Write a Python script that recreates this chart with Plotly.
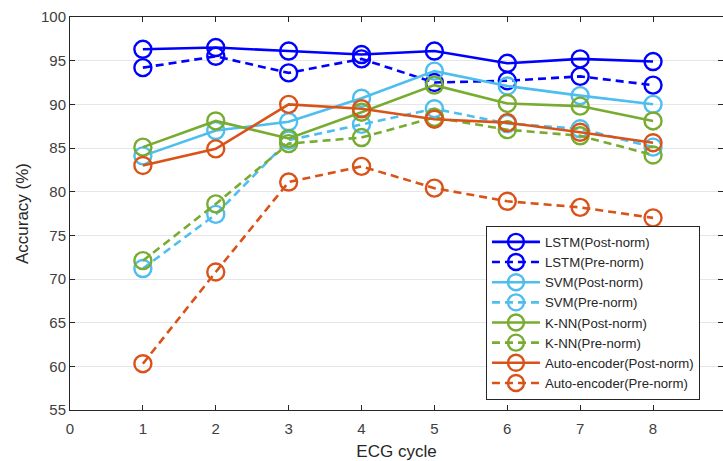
import plotly.graph_objects as go

cycles = [1, 2, 3, 4, 5, 6, 7, 8]
lstm_post = [96.3, 96.5, 96.1, 95.7, 96.1, 94.7, 95.2, 94.9]
lstm_pre = [94.2, 95.5, 93.6, 95.2, 92.5, 92.7, 93.2, 92.2]
svm_post = [84.1, 87.0, 88.0, 90.7, 93.8, 92.1, 91.0, 90.0]
svm_pre = [71.2, 77.4, 85.9, 87.7, 89.5, 87.8, 87.2, 85.1]
knn_post = [85.1, 88.1, 86.1, 89.1, 92.2, 90.1, 89.8, 88.1]
knn_pre = [72.1, 78.6, 85.5, 86.2, 88.5, 87.1, 86.4, 84.2]
ae_post = [83.0, 84.9, 90.0, 89.5, 88.3, 87.9, 86.8, 85.6]
ae_pre = [60.3, 70.8, 81.1, 82.9, 80.4, 78.9, 78.2, 77.0]

series = [
    ("LSTM(Post-norm)", lstm_post, "#0000FF", "solid"),
    ("LSTM(Pre-norm)", lstm_pre, "#0000FF", "dash"),
    ("SVM(Post-norm)", svm_post, "#4DBEEE", "solid"),
    ("SVM(Pre-norm)", svm_pre, "#4DBEEE", "dash"),
    ("K-NN(Post-norm)", knn_post, "#77AC30", "solid"),
    ("K-NN(Pre-norm)", knn_pre, "#77AC30", "dash"),
    ("Auto-encoder(Post-norm)", ae_post, "#D95319", "solid"),
    ("Auto-encoder(Pre-norm)", ae_pre, "#D95319", "dash"),
]

x_ticks = [0, 1, 2, 3, 4, 5, 6, 7, 8, 9]
y_ticks = [55, 60, 65, 70, 75, 80, 85, 90, 95, 100]

fig = go.Figure()
for name, vals, color, dash in series:
    fig.add_trace(go.Scatter(
        x=cycles, y=vals, name=name, mode="lines+markers",
        line=dict(color=color, width=2.6, dash="8px,5px" if dash == "dash" else "solid"),
        marker=dict(symbol="circle-open", size=17, color=color, line=dict(width=2.4, color=color)),
    ))

font_family = "Liberation Sans, Arial, sans-serif"
fig.update_layout(
    width=723, height=461,
    margin=dict(l=70, r=0, t=17, b=51),
    plot_bgcolor="white", paper_bgcolor="white",
    font=dict(family=font_family, size=15, color="#262626"),
    showlegend=True,
    legend=dict(
        x=0.637, y=0.026, xanchor="left", yanchor="bottom",
        bgcolor="white", bordercolor="#262626", borderwidth=1,
        font=dict(family=font_family, size=13.2, color="#262626"),
        tracegroupgap=0, itemwidth=48,
    ),
    xaxis=dict(
        range=[0, 8.96], tickvals=x_ticks, ticks="inside", ticklen=5,
        tickcolor="#262626", showline=True, linecolor="#262626", linewidth=1,
        mirror="ticks", showgrid=False, zeroline=False,
        title=dict(text="ECG cycle", font=dict(size=17, color="#262626"), standoff=9),
        tickfont=dict(size=15, color="#404040"),
        ticklabelstandoff=5,
    ),
    yaxis=dict(
        range=[55, 100], tickvals=y_ticks, ticks="inside", ticklen=5,
        tickcolor="#262626", showline=True, linecolor="#262626", linewidth=1,
        mirror="ticks", showgrid=True, gridcolor="#E6E6E6", gridwidth=1, zeroline=False,
        title=dict(text="Accuracy (%)", font=dict(size=17, color="#262626"), standoff=8),
        tickfont=dict(size=15, color="#404040"),
    ),
)

fig.write_html("out.html")
